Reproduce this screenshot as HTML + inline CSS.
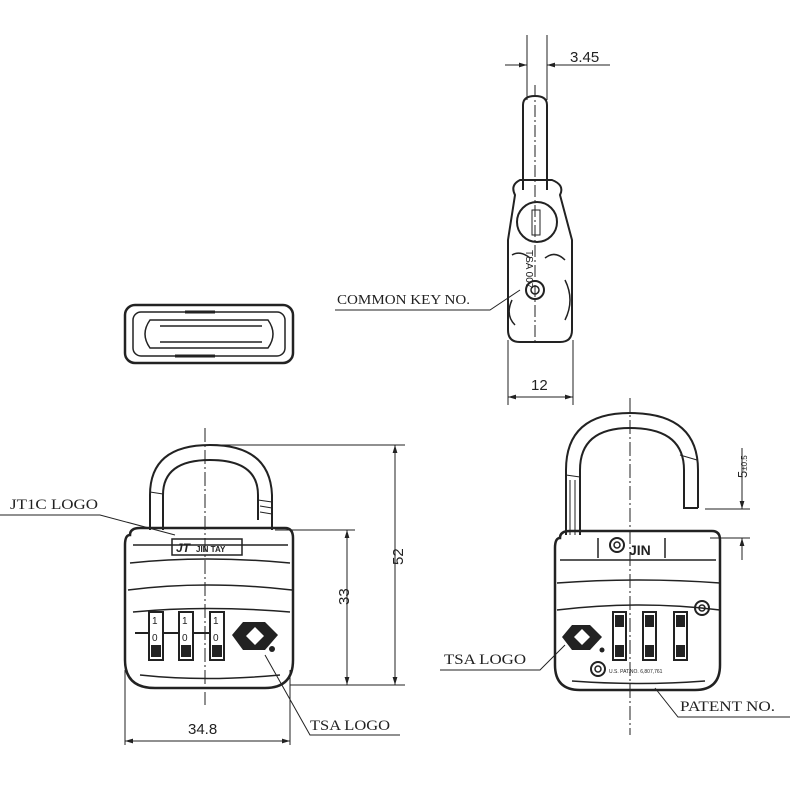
<!DOCTYPE html>
<html><head><style>body{margin:0;background:#fff}svg{display:block}</style></head><body>
<svg width="800" height="800" viewBox="0 0 800 800" xmlns="http://www.w3.org/2000/svg" font-family="Liberation Sans, sans-serif" fill="none" stroke="#222" stroke-width="1.5">
<defs><marker id="a" viewBox="0 0 10 10" refX="10" refY="5" markerWidth="8" markerHeight="8" orient="auto-start-reverse"><path d="M0,2 L10,5 L0,8z" fill="#222" stroke="none"/></marker></defs>
<!-- top-left view -->
<rect x="125" y="305" width="168" height="58" rx="10" stroke-width="2.5"/>
<rect x="133" y="312" width="152" height="44" rx="8"/>
<path d="M150,320 H268 Q278,334 268,348 H150 Q140,334 150,320z"/>
<path d="M160,326 H262 M160,342 H262"/>
<path d="M185,312 h30 M175,356 h40" stroke-width="3"/>
<!-- side view -->
<g>
<line x1="527" y1="35" x2="527" y2="100" stroke-width="1"/><line x1="547" y1="35" x2="547" y2="100" stroke-width="1"/>
<line x1="505" y1="65" x2="527" y2="65" marker-end="url(#a)" stroke-width="1"/>
<line x1="610" y1="65" x2="547" y2="65" marker-end="url(#a)" stroke-width="1"/>
<text x="570" y="62" font-size="15" fill="#222" stroke="none">3.45</text>
<path d="M523,190 V105 Q523,96 535,96 Q547,96 547,105 V190" stroke-width="2"/>
<line x1="535" y1="85" x2="535" y2="345" stroke-dasharray="12,3,2,3" stroke-width="1"/>
<path d="M515,195 Q510,185 520,180 L552,180 Q565,185 560,195 L572,240 V330 Q572,342 560,342 H520 Q508,342 508,330 V240z" stroke-width="2"/>
<circle cx="537" cy="222" r="20" stroke-width="2"/>
<rect x="532" y="210" width="8" height="25" stroke-width="1"/>
<circle cx="535" cy="290" r="9" stroke-width="2"/><circle cx="535" cy="290" r="4"/>
<path d="M512,255 Q520,250 530,258 M545,258 Q555,250 565,260 M512,300 Q505,315 515,325 M565,280 Q575,300 565,320" stroke-width="1.5"/>
<text x="526" y="250" font-size="10" fill="#222" stroke="none" transform="rotate(90 526 250)">TSA 007</text>
<line x1="508" y1="340" x2="508" y2="405" stroke-width="1"/><line x1="573" y1="340" x2="573" y2="405" stroke-width="1"/>
<line x1="540" y1="397" x2="508" y2="397" marker-end="url(#a)" stroke-width="1"/>
<line x1="540" y1="397" x2="573" y2="397" marker-end="url(#a)" stroke-width="1"/>
<text x="531" y="390" font-size="15" fill="#222" stroke="none">12</text>
<text x="337" y="304" font-size="14" fill="#222" stroke="none" font-family="Liberation Serif, serif" textLength="133" lengthAdjust="spacingAndGlyphs">COMMON KEY NO.</text>
<path d="M335,310 H490 L520,290" stroke-width="1"/>
</g>
<!-- front lock -->
<g>
<line x1="205" y1="428" x2="205" y2="705" stroke-dasharray="14,3,2,3" stroke-width="1"/>
<path d="M150,530 V495 Q150,445 210,445 Q270,445 272,495 V530" stroke-width="2"/>
<path d="M163,530 V495 Q163,460 210,460 Q258,460 258,495 V520" stroke-width="2"/>
<path d="M150,492 L163,494 M258,500 L272,502 M260,506 L272,508 M260,512 L272,514" stroke-width="1"/>
<path d="M130,535 Q130,528 140,528 H285 Q293,528 293,538 V660 Q293,688 265,688 H155 Q125,688 125,660 V545 Q125,535 130,535z" stroke-width="2.5"/>
<path d="M133,545 H288 M130,563 Q205,555 290,563 M128,590 Q205,580 292,590 M133,612 Q205,605 290,612 M140,675 Q205,682 280,675"/>
<rect x="172" y="539" width="70" height="16" stroke-width="1.5"/>
<text x="176" y="552" font-size="12" font-style="italic" font-weight="bold" fill="#222" stroke="none">JT</text>
<text x="196" y="552" font-size="8" font-weight="bold" fill="#222" stroke="none">JIN TAY</text>
<line x1="135" y1="633" x2="225" y2="633" stroke-width="2"/>
<g stroke-width="2">
<rect x="149" y="612" width="14" height="48" fill="#fff"/><rect x="179" y="612" width="14" height="48" fill="#fff"/><rect x="210" y="612" width="14" height="48" fill="#fff"/>
</g>
<g font-size="10" fill="#222" stroke="none"><text x="152" y="624">1</text><text x="182" y="624">1</text><text x="213" y="624">1</text>
<text x="152" y="641">0</text><text x="182" y="641">0</text><text x="213" y="641">0</text></g>
<g fill="#222" stroke="none"><rect x="151" y="645" width="10" height="12"/><rect x="181" y="645" width="10" height="12"/><rect x="212" y="645" width="10" height="12"/></g>
<path d="M232,635 L243,622 H265 L278,635 L265,650 H243z" fill="#222" stroke="none"/>
<path d="M255,627 L264,636 L255,645 L246,636z" fill="#fff" stroke="none"/>
<circle cx="272" cy="649" r="3" fill="#222" stroke="none"/>
<path d="M265,655 L310,735 H400" stroke-width="1"/>
<text x="310" y="730" font-size="15" fill="#222" stroke="none" font-family="Liberation Serif, serif" textLength="80" lengthAdjust="spacingAndGlyphs">TSA LOGO</text>
<text x="10" y="509" font-size="15" fill="#222" stroke="none" font-family="Liberation Serif, serif" textLength="88" lengthAdjust="spacingAndGlyphs">JT1C LOGO</text>
<path d="M0,515 H100 L175,535" stroke-width="1"/>
<line x1="205" y1="445" x2="405" y2="445" stroke-width="1"/>
<line x1="275" y1="530" x2="355" y2="530" stroke-width="1"/>
<line x1="290" y1="685" x2="405" y2="685" stroke-width="1"/>
<line x1="395" y1="565" x2="395" y2="445" marker-end="url(#a)" stroke-width="1"/>
<line x1="395" y1="565" x2="395" y2="685" marker-end="url(#a)" stroke-width="1"/>
<line x1="347" y1="600" x2="347" y2="530" marker-end="url(#a)" stroke-width="1"/>
<line x1="347" y1="600" x2="347" y2="685" marker-end="url(#a)" stroke-width="1"/>
<text x="390" y="578" font-size="15" fill="#222" stroke="none" transform="rotate(-90 390 565)">52</text>
<text x="342" y="612" font-size="15" fill="#222" stroke="none" transform="rotate(-90 342 605)">33</text>
<line x1="125" y1="670" x2="125" y2="745" stroke-width="1"/><line x1="290" y1="670" x2="290" y2="745" stroke-width="1"/>
<line x1="205" y1="741" x2="125" y2="741" marker-end="url(#a)" stroke-width="1"/>
<line x1="205" y1="741" x2="290" y2="741" marker-end="url(#a)" stroke-width="1"/>
<text x="188" y="734" font-size="15" fill="#222" stroke="none">34.8</text>
</g>
<!-- back lock -->
<g>
<line x1="630" y1="398" x2="630" y2="735" stroke-dasharray="14,3,2,3" stroke-width="1"/>
<path d="M566,535 V470 Q566,413 630,413 Q698,413 698,470 V508" stroke-width="2"/>
<path d="M580,535 V470 Q580,428 630,428 Q684,428 684,470 V508 H698" stroke-width="2"/>
<path d="M566,475 L580,477 M570,480 V535 M575,480 V535 M680,455 L697,460" stroke-width="1"/>
<path d="M560,538 Q560,531 570,531 H712 Q720,531 720,540 V665 Q720,690 695,690 H580 Q555,690 555,665 V548 Q555,538 560,538z" stroke-width="2.5"/>
<path d="M560,560 H716 M557,583 Q640,577 720,583 M557,610 Q640,600 720,610 M572,681 Q640,686 705,681"/>
<path d="M598,538 V558 M665,538 V558"/>
<text x="629" y="555" font-size="14" font-weight="bold" fill="#222" stroke="none">JIN</text>
<circle cx="617" cy="545" r="7" stroke-width="2"/><circle cx="617" cy="545" r="3"/>
<circle cx="702" cy="608" r="7" stroke-width="2"/><circle cx="702" cy="608" r="3"/>
<circle cx="598" cy="669" r="7" stroke-width="2"/><circle cx="598" cy="669" r="3"/>
<g stroke-width="2"><rect x="613" y="612" width="13" height="48"/><rect x="643" y="612" width="13" height="48"/><rect x="674" y="612" width="13" height="48"/></g>
<g fill="#222" stroke="none"><rect x="615" y="615" width="9" height="12"/><rect x="645" y="615" width="9" height="12"/><rect x="676" y="615" width="9" height="12"/>
<rect x="615" y="645" width="9" height="12"/><rect x="645" y="645" width="9" height="12"/><rect x="676" y="645" width="9" height="12"/></g>
<text x="609" y="673" font-size="5" fill="#222" stroke="none">U.S. PAT.NO. 6,807,761</text>
<path d="M562,637 L572,625 H590 L602,637 L590,650 H572z" fill="#222" stroke="none"/>
<path d="M582,629 L590,637 L582,645 L574,637z" fill="#fff" stroke="none"/>
<circle cx="602" cy="650" r="2.5" fill="#222" stroke="none"/>
<text x="444" y="664" font-size="15" fill="#222" stroke="none" font-family="Liberation Serif, serif" textLength="82" lengthAdjust="spacingAndGlyphs">TSA LOGO</text>
<path d="M440,670 H540 L565,645" stroke-width="1"/>
<text x="680" y="711" font-size="15" fill="#222" stroke="none" font-family="Liberation Serif, serif" textLength="95" lengthAdjust="spacingAndGlyphs">PATENT NO.</text>
<path d="M655,688 L678,717 H790" stroke-width="1"/>
<line x1="705" y1="509" x2="750" y2="509" stroke-width="1"/>
<line x1="710" y1="538" x2="750" y2="538" stroke-width="1"/>
<line x1="742" y1="448" x2="742" y2="509" marker-end="url(#a)" stroke-width="1"/>
<line x1="742" y1="560" x2="742" y2="538" marker-end="url(#a)" stroke-width="1"/>
<text x="735" y="490" font-size="13" fill="#222" stroke="none" transform="rotate(-90 735 478)">5<tspan font-size="8">±0.5</tspan></text>
</g>
</svg>
</body></html>
